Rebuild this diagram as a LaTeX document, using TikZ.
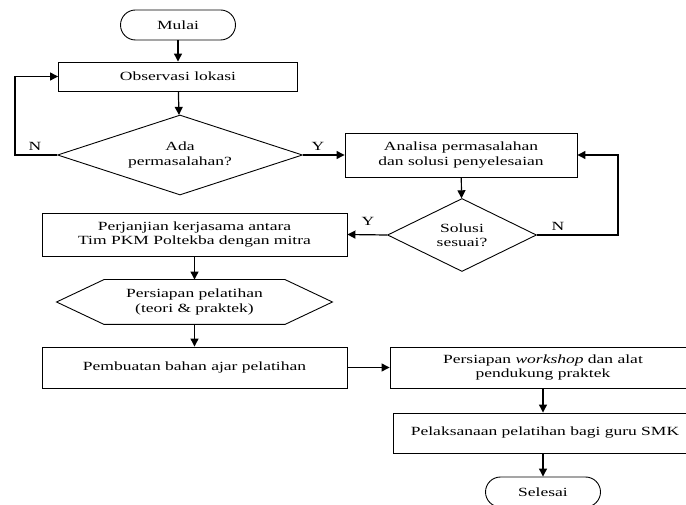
\documentclass[tikz,border=0pt]{standalone}
\usepackage{fontspec}
\setmainfont[FakeStretch=1.4]{Liberation Serif}
\usetikzlibrary{shapes.geometric,arrows.meta,calc}
\begin{document}
\begin{tikzpicture}[x=1pt,y=-1pt,
  base/.style={line width=0.9pt, align=center, inner sep=0pt, font=\fontsize{12.5}{14.3}\selectfont},
  box/.style={base, draw, rectangle},
  term/.style={base, draw, rectangle, rounded corners=15pt, minimum width=115pt, minimum height=30pt},
  decide/.style={base, draw, diamond, shape aspect=3},
  lbl/.style={font=\fontsize{12.5}{14.3}\selectfont, inner sep=0pt},
  conn/.style={line width=1.2pt, -{Triangle[width=8pt,length=8pt]}},
  plain/.style={line width=1.2pt}]
\useasboundingbox (0,0) rectangle (686,505);

\node[term] (mulai) at (178,25) {Mulai};
\node[box, minimum width=239pt, minimum height=29pt] (obs) at (178,76.5) {Observasi lokasi};
\node[decide, minimum width=245pt, minimum height=80pt] (ada) at (180,155) {Ada\\permasalahan?};
\node[box, minimum width=232pt, minimum height=44pt] (anl) at (461,155) {Analisa permasalahan\\dan solusi penyelesaian};
\node[decide, minimum width=149pt, minimum height=73pt] (sol) at (462,235) {Solusi\\sesuai?};
\node[box, minimum width=305pt, minimum height=43pt] (perj) at (194.5,234.5) {Perjanjian kerjasama antara\\Tim PKM Poltekba dengan mitra};
\node[base, minimum width=180pt, minimum height=44pt] (hex) at (194.5,302) {Persiapan pelatihan\\(teori \& praktek)};
\draw[line width=0.9pt] (hex.north west) -- ($(hex.west)+(-47.5,0)$) -- (hex.south west) -- (hex.south east) -- ($(hex.east)+(47.5,0)$) -- (hex.north east) -- cycle;
\node[box, minimum width=305pt, minimum height=41pt] (pemb) at (194.5,367.5) {Pembuatan bahan ajar pelatihan};
\node[box, minimum width=306pt, minimum height=41pt] (pw) at (543,367.5) {Persiapan \textit{workshop} dan alat\\pendukung praktek};
\node[box, minimum width=304pt, minimum height=40pt] (pel) at (545,433) {Pelaksanaan pelatihan bagi guru SMK};
\node[term] (sel) at (543,492) {Selesai};

\coordinate (nl) at (15,155);
\coordinate (nr) at (618,235);

\node[lbl] (n1) at (35,146) {N};
\node[lbl] (y1) at (318,146) {Y};
\node[lbl] (n2) at (558,226) {N};
\node[lbl] (y2) at (368,221) {Y};

\draw[conn] (mulai) -- (obs);
\draw[conn] (obs) -- (ada);
\draw[conn] (ada.west) -- (nl) |- (obs.west);
\draw[conn] (ada.east) -- (anl.west);
\draw[conn] (anl) -- (sol);
\draw[conn] (sol.east) -- (nr) |- (anl.east);
\draw[conn] (sol.west) -- (perj.east);
\draw[conn] (perj) -- (hex);
\draw[conn] (hex) -- (pemb);
\draw[conn] (pemb.east) -- (pw.west);
\draw[conn] (pw.south) -- (pw.south |- pel.north);
\draw[conn] (sel.north |- pel.south) -- (sel.north);
\end{tikzpicture}
\end{document}
